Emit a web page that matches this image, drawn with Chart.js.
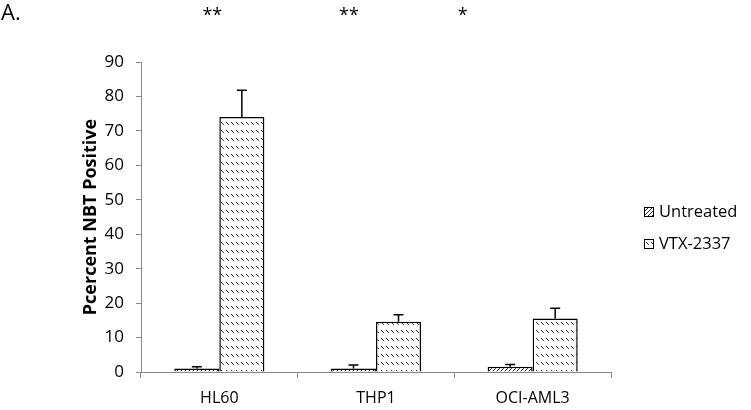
<!DOCTYPE html>
<html>
<head>
<meta charset="utf-8">
<script src="https://cdn.jsdelivr.net/npm/chart.js@4.4.1/dist/chart.umd.min.js"></script>
<style>
  html, body { margin: 0; padding: 0; background: #fff; }
  #wrap { position: relative; width: 751px; height: 410px; }
</style>
</head>
<body>
<div id="wrap"><canvas id="chart" width="751" height="410"></canvas></div>
<script>
// Data
const cellLines = ['HL60', 'THP1', 'OCI-AML3'];
const untreated = [1.0, 1.0, 1.5];
const untreatedErr = [0.5, 1.0, 0.7];
const vtx = [74.0, 14.6, 15.5];
const vtxErr = [7.8, 2.0, 3.0];
const yTicks = [0, 10, 20, 30, 40, 50, 60, 70, 80, 90];
const significance = ['**', '**', '*'];
const yTitle = 'Pcercent NBT Positive';

const FONT = "'Open Sans', 'Liberation Sans', sans-serif";

// Hatch pattern for "Untreated": dense forward diagonals
const makeDiagPattern = () => {
    const c = document.createElement('canvas');
    c.width = 4; c.height = 4;
    const g = c.getContext('2d');
    g.fillStyle = '#fff';
    g.fillRect(0, 0, 4, 4);
    g.strokeStyle = '#222';
    g.lineWidth = 1;
    g.beginPath();
    g.moveTo(-1, 5); g.lineTo(5, -1);
    g.moveTo(-1, 1); g.lineTo(1, -1);
    g.moveTo(3, 5); g.lineTo(5, 3);
    g.stroke();
    return g.createPattern(c, 'repeat');
};

// Pattern for "VTX-2337": rows of short backslash strokes
const makeRowPattern = () => {
    const c = document.createElement('canvas');
    c.width = 5; c.height = 8;
    const g = c.getContext('2d');
    g.fillStyle = '#fff';
    g.fillRect(0, 0, 5, 8);
    g.strokeStyle = '#222';
    g.lineWidth = 1;
    g.beginPath();
    g.moveTo(1, 2); g.lineTo(3.8, 4.8);
    g.stroke();
    return g.createPattern(c, 'repeat');
};

const diagFill = makeDiagPattern();
const rowFill = makeRowPattern();

// Draws upward error bars with caps
const errorBarPlugin = {
    id: 'errorBars',
    afterDatasetsDraw(chart) {
        const { ctx } = chart;
        const y = chart.scales.y;
        const errs = [untreatedErr, vtxErr];
        ctx.save();
        ctx.strokeStyle = '#000';
        ctx.lineWidth = 1.5;
        chart.data.datasets.forEach((ds, di) => {
            const meta = chart.getDatasetMeta(di);
            meta.data.forEach((bar, i) => {
                const top = y.getPixelForValue(ds.data[i] + errs[di][i]);
                const base = y.getPixelForValue(ds.data[i]);
                ctx.beginPath();
                ctx.moveTo(bar.x, base);
                ctx.lineTo(bar.x, top);
                ctx.moveTo(bar.x - 5, top);
                ctx.lineTo(bar.x + 5, top);
                ctx.stroke();
            });
        });
        ctx.restore();
    }
};

// Panel label, axis title, significance stars and legend
const annotationPlugin = {
    id: 'annotations',
    afterDraw(chart) {
        const { ctx, chartArea } = chart;
        const x = chart.scales.x;
        ctx.save();
        ctx.fillStyle = '#000';
        ctx.font = `22px ${FONT}`;
        ctx.textBaseline = 'middle';
        ctx.textAlign = 'left';
        ctx.fillText('A.', 1, 14);

        // y axis title
        ctx.save();
        ctx.translate(91, (chartArea.top + chartArea.bottom) / 2);
        ctx.rotate(-Math.PI / 2);
        ctx.textAlign = 'center';
        ctx.font = `bold 18px ${FONT}`;
        ctx.fillText(yTitle, 0, 0);
        ctx.restore();

        ctx.font = `18px ${FONT}`;
        ctx.textAlign = 'center';
        const starOffsets = [-7, -27, -70];
        significance.forEach((s, i) => {
            ctx.fillText(s, x.getPixelForValue(i) + starOffsets[i], 16);
        });

        // legend
        const items = [['Untreated', diagFill], ['VTX-2337', rowFill]];
        ctx.font = `16.5px ${FONT}`;
        ctx.textAlign = 'left';
        items.forEach(([label, fill], i) => {
            const ly = 212 + i * 32;
            ctx.fillStyle = fill;
            ctx.fillRect(644, ly - 5, 10, 10);
            ctx.strokeStyle = '#000';
            ctx.lineWidth = 1;
            ctx.strokeRect(644.5, ly - 4.5, 9, 9);
            ctx.fillStyle = '#000';
            ctx.fillText(label, 659, ly);
        });
        ctx.restore();
    }
};

new Chart(document.getElementById('chart'), {
    type: 'bar',
    data: {
        labels: cellLines,
        datasets: [{
            label: 'Untreated',
            data: untreated,
            backgroundColor: diagFill,
            borderColor: '#000',
            borderWidth: 1.5,
            borderSkipped: 'bottom'
        }, {
            label: 'VTX-2337',
            data: vtx,
            backgroundColor: rowFill,
            borderColor: '#000',
            borderWidth: 1.5,
            borderSkipped: 'bottom'
        }]
    },
    options: {
        responsive: false,
        animation: false,
        devicePixelRatio: 1,
        layout: { padding: { top: 62, right: 140, left: 0, bottom: 0 } },
        plugins: {
            legend: { display: false },
            tooltip: { enabled: false }
        },
        datasets: {
            bar: { categoryPercentage: 0.575, barPercentage: 1.0 }
        },
        scales: {
            x: {
                afterFit: (s) => { s.height = 38; },
                grid: {
                    offset: true,
                    drawOnChartArea: false,
                    drawTicks: true,
                    tickLength: 6,
                    color: '#888'
                },
                border: { color: '#888', width: 1 },
                ticks: {
                    color: '#000',
                    padding: 11,
                    font: { family: FONT, size: 16 }
                }
            },
            y: {
                min: 0,
                max: 90,
                afterFit: (s) => { s.width = 141; },
                afterBuildTicks: (s) => { s.ticks = yTicks.map(v => ({ value: v })); },
                grid: {
                    drawOnChartArea: false,
                    drawTicks: true,
                    tickLength: 5,
                    color: '#888'
                },
                border: { color: '#888', width: 1 },
                ticks: {
                    color: '#000',
                    padding: 12,
                    font: { family: FONT, size: 17 }
                }
            }
        }
    },
    plugins: [errorBarPlugin, annotationPlugin]
});
</script>
</body>
</html>
